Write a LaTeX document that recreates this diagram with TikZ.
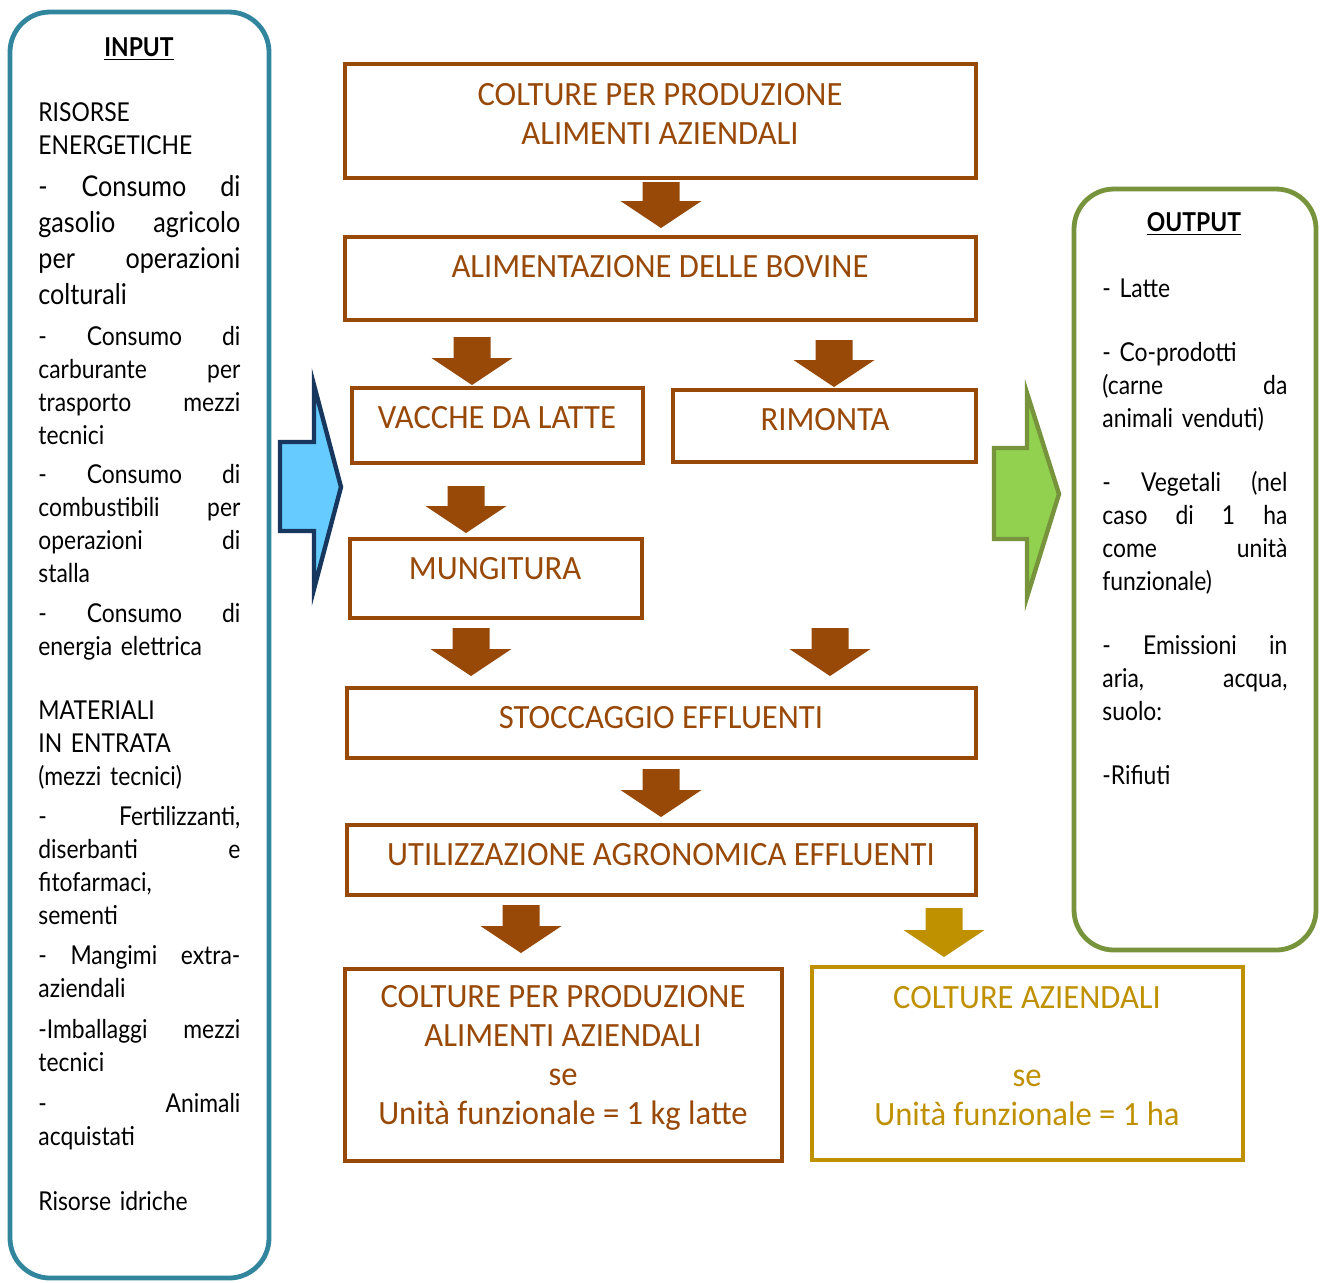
\documentclass[tikz,border=0pt]{standalone}
\usepackage{fontspec}
\setmainfont[FakeStretch=0.88]{Lato}
\newfontfamily\boxfont[FakeStretch=0.96]{Carlito}
\definecolor{brownbox}{RGB}{152,72,7}
\definecolor{goldbox}{RGB}{191,144,0}
\definecolor{inteal}{RGB}{49,133,156}
\definecolor{outgreen}{RGB}{119,147,60}
\definecolor{arrowgreen}{RGB}{146,208,80}
\definecolor{arrowblue}{RGB}{102,204,255}
\definecolor{arrownavy}{RGB}{23,55,94}
\newcommand\jl[1]{\makebox[101pt][s]{\spaceskip=0.3em plus 1fil\relax#1}}
\newcommand\jr[1]{\makebox[92.5pt][s]{\spaceskip=0.3em plus 1fil\relax#1}}
\newcommand\downblock[4][brownbox]{%
  \fill[#1] (#2-18.5,#3) -- (#2+18.5,#3) -- (#2+18.5,#4-27) -- (#2+40.5,#4-27)
    -- (#2,#4) -- (#2-40.5,#4-27) -- (#2-18.5,#4-27) -- cycle;}

\begin{document}
\begin{tikzpicture}[x=0.5pt,y=-0.5pt,
    panel/.style={draw,line width=2.4pt,rounded corners=20pt,inner sep=0pt},
    stepbox/.style={draw=brownbox,line width=2.4pt,inner sep=0pt},
    boxlabel/.style={text=brownbox,align=center,inner sep=0pt,
      font=\boxfont\fontsize{17}{19.5}\selectfont},
    sidetext/.style={align=left,inner sep=0pt,anchor=north west,
      font=\fontsize{13}{16.5}\selectfont},
    sidetitle/.style={inner sep=0pt,font=\fontsize{13}{16.5}\selectfont\bfseries}]
  \useasboundingbox (0,0) rectangle (1320,1282);

  % input / output panels
  \node[panel,draw=inteal,minimum width=129.5pt,minimum height=633pt] (input) at (139.5,645) {};
  \node[sidetitle] (intitle) at (139,49) {\underline{INPUT}};
  \node[sidetext,text width=101pt] (inlist) at (38,102) {%
    RISORSE\\ENERGETICHE\par\vspace{3pt}
    {\fontsize{14.3}{18}\selectfont\jl{- Consumo di}\\\jl{gasolio agricolo}\\\jl{per operazioni}\\colturali\par}
    \vspace{4pt}
    \jl{- Consumo di}\\\jl{carburante per}\\\jl{trasporto mezzi}\\tecnici\par\vspace{3pt}
    \jl{- Consumo di}\\\jl{combustibili per}\\\jl{operazioni di}\\stalla\par\vspace{3.5pt}
    \jl{- Consumo di}\\energia elettrica\par\vspace{15.5pt}
    MATERIALI\\IN ENTRATA\\(mezzi tecnici)\par\vspace{3.5pt}
    \jl{- Fertilizzanti,}\\\jl{diserbanti e}\\fitofarmaci,\\sementi\par\vspace{3.5pt}
    \jl{- Mangimi extra-}\\aziendali\par\vspace{4pt}
    \jl{-Imballaggi mezzi}\\tecnici\par\vspace{4pt}
    \jl{- Animali}\\acquistati\par\vspace{16pt}
    Risorse idriche};

  \node[panel,draw=outgreen,minimum width=121pt,minimum height=380.5pt] (output) at (1195,569.5) {};
  \node[sidetitle] (outtitle) at (1194,224) {\underline{OUTPUT}};
  \node[sidetext,text width=92.5pt] (outlist) at (1102,278) {%
    - Latte\par\vspace{15.5pt}
    - Co-prodotti\\\jr{(carne da}\\animali venduti)\par\vspace{15.5pt}
    \jr{- Vegetali (nel}\\\jr{caso di 1 ha}\\\jr{come unità}\\funzionale)\par\vspace{15.5pt}
    \jr{- Emissioni in}\\\jr{aria, acqua,}\\suolo:\par\vspace{15.5pt}
    -Rifiuti};

  % side arrows
  \draw[fill=arrowblue,draw=arrownavy,line width=2.2pt,line join=miter]
    (280,442) -- (314,442) -- (314,385) -- (341,487) -- (314,589) -- (314,531) -- (280,531) -- cycle;
  \draw[fill=arrowgreen,draw=outgreen,line width=2.2pt,line join=miter]
    (994,448) -- (1027,448) -- (1027,393) -- (1059,494) -- (1027,597) -- (1027,539) -- (994,539) -- cycle;

  % process boxes
  \node[stepbox,minimum width=315.5pt,minimum height=57pt] (colture) at (660.5,121) {};
  \node[boxlabel] (colture-t) at (660,113.5) {COLTURE PER PRODUZIONE\\ALIMENTI AZIENDALI};
  \node[stepbox,minimum width=315.5pt,minimum height=41.5pt] (alim) at (660.5,278.5) {};
  \node[boxlabel] (alim-t) at (660,267) {ALIMENTAZIONE DELLE BOVINE};
  \node[stepbox,minimum width=145.5pt,minimum height=37.5pt] (vacche) at (497.5,425.5) {};
  \node[boxlabel] (vacche-t) at (497,418) {VACCHE DA LATTE};
  \node[stepbox,minimum width=151.5pt,minimum height=36pt] (rimonta) at (824.5,426) {};
  \node[boxlabel] (rimonta-t) at (825,420) {RIMONTA};
  \node[stepbox,minimum width=146pt,minimum height=39.5pt] (mung) at (496,578.5) {};
  \node[boxlabel] (mung-t) at (495,569) {MUNGITURA};
  \node[stepbox,minimum width=314.5pt,minimum height=35pt] (stocc) at (661.5,723) {};
  \node[boxlabel] (stocc-t) at (661,718) {STOCCAGGIO EFFLUENTI};
  \node[stepbox,minimum width=314.5pt,minimum height=35pt] (util) at (661.5,860) {};
  \node[boxlabel] (util-t) at (661,855) {UTILIZZAZIONE AGRONOMICA EFFLUENTI};
  \node[stepbox,minimum width=218.5pt,minimum height=96pt] (unitlatte) at (563.5,1065) {};
  \node[boxlabel] (unitlatte-t) at (563,1058) {COLTURE PER PRODUZIONE\\ALIMENTI AZIENDALI\\se\\Unità funzionale = 1 kg latte};
  \node[stepbox,draw=goldbox,minimum width=215.5pt,minimum height=96.5pt] (unitha) at (1027.5,1063.5) {};
  \node[boxlabel,text=goldbox] (unitha-t) at (1027,1056) {COLTURE AZIENDALI\\\mbox{}\\se\\Unità funzionale = 1 ha};

  % block arrows
  \downblock{661}{182}{228}
  \downblock{472}{337}{385}
  \downblock{834}{340}{387}
  \downblock{466}{486}{533}
  \downblock{471}{628}{676}
  \downblock{830}{628}{676}
  \downblock{661}{769}{817}
  \downblock{521}{905}{953}
  \downblock[goldbox]{944}{908}{957}
\end{tikzpicture}
\end{document}
